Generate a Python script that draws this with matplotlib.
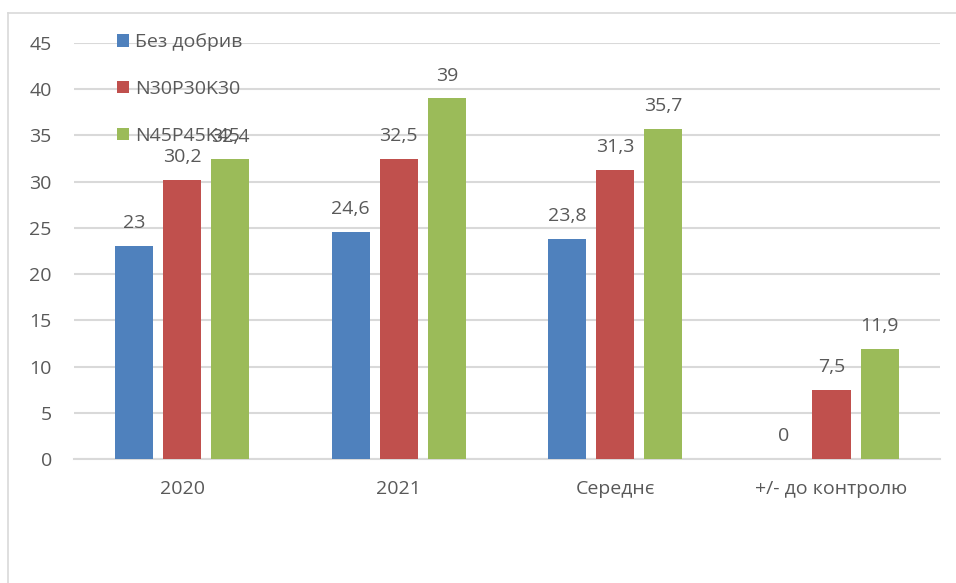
import numpy as np
import matplotlib
matplotlib.use("Agg")
import matplotlib.pyplot as plt
from matplotlib.lines import Line2D
from matplotlib.patches import Patch

plt.rcParams['font.family'] = ['Open Sans', 'DejaVu Sans']

# дані
categories = ['2020', '2021', 'Середнє', '+/- до контролю']
series_names = ['Без добрив', 'N30P30K30', 'N45P45K45']
bez_dobryv = [23, 24.6, 23.8, 0]
n30p30k30 = [30.2, 32.5, 31.3, 7.5]
n45p45k45 = [32.4, 39, 35.7, 11.9]
y_ticks = [0, 5, 10, 15, 20, 25, 30, 35, 40, 45]

colors = ['#4F81BD', '#C0504D', '#9BBB59']
text_color = '#595959'
grid_color = '#D9D9D9'
fs = 14

fig = plt.figure(figsize=(9.56, 5.83), dpi=100)
ax = fig.add_axes([0.0774, 0.2127, 0.9056, 0.7136])

x = np.arange(len(categories))
width = 0.176
step = 0.222
all_series = [bez_dobryv, n30p30k30, n45p45k45]

for i, (vals, name, col) in enumerate(zip(all_series, series_names, colors)):
    pos = x + (i - 1) * step
    bars = ax.bar(pos, vals, width=width, color=col, label=name, zorder=3)
    for b, v in zip(bars, vals):
        lbl = f"{v:g}".replace('.', ',')
        ax.annotate(lbl, (b.get_x() + b.get_width() / 2, v),
                    xytext=(0, 10), textcoords='offset points',
                    ha='center', va='bottom', fontsize=fs, color=text_color,
                    zorder=2)

ax.set_xlim(-0.5, len(categories) - 0.5)
ax.set_ylim(0, 45)
ax.set_yticks(y_ticks)
ax.set_yticklabels([str(t) for t in y_ticks])
ax.set_xticks(x)
ax.set_xticklabels(categories)
ax.tick_params(axis='both', length=0, labelsize=fs, labelcolor=text_color)
ax.tick_params(axis='y', pad=16)
ax.tick_params(axis='x', pad=15)

ax.grid(axis='y', color=grid_color, linewidth=1.5, zorder=0)
for s in ['top', 'right', 'left']:
    ax.spines[s].set_visible(False)
ax.spines['bottom'].set_color(grid_color)
ax.spines['bottom'].set_linewidth(1.5)

# легенда всередині області побудови, поверх сітки
handles = [Patch(facecolor=c) for c in colors]
leg = ax.legend(handles, series_names, loc='upper left',
                bbox_to_anchor=(0.041, 1.042), frameon=False,
                fontsize=fs, labelcolor=text_color,
                handlelength=0.6, handleheight=0.6, handletextpad=0.3,
                labelspacing=1.48, borderaxespad=0)
leg.set_zorder(5)

# рамка навколо діаграми
fig.add_artist(Line2D([8 / 956, 1], [1 - 13 / 583, 1 - 13 / 583],
                      transform=fig.transFigure, color=grid_color, linewidth=1.2))
fig.add_artist(Line2D([8 / 956, 8 / 956], [0, 1 - 13 / 583],
                      transform=fig.transFigure, color=grid_color, linewidth=1.2))

fig.savefig('out.png', dpi=100)
